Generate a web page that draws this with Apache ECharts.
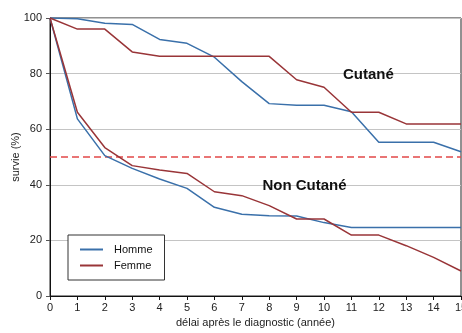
<!DOCTYPE html>
<html><head><meta charset="utf-8">
<script src="https://cdn.jsdelivr.net/npm/echarts@6/dist/echarts.min.js"></script>
<style>html,body{margin:0;padding:0;background:#fff}#c{width:462px;height:333px}</style>
</head><body><div id="c"></div>
<script>
var years = [0,1,2,3,4,5,6,7,8,9,10,11,12,13,14,15];
var hommeCutane    = [100,99.7,98.1,97.7,92.3,90.9,85.9,77.1,69.2,68.6,68.6,66.3,55.3,55.3,55.3,51.9];
var femmeCutane    = [100,96.0,96.0,87.8,86.2,86.2,86.2,86.2,86.2,77.8,75.1,66.1,66.1,61.9,61.9,61.9];
var hommeNonCutane = [100,63.7,50.5,45.9,42.1,38.7,31.9,29.4,28.9,28.8,26.4,24.6,24.6,24.6,24.6,24.6];
var femmeNonCutane = [100,66.1,53.4,46.9,45.3,44.1,37.5,36.1,32.5,27.7,27.7,21.9,21.9,18.1,13.9,9.0];
var refLine = 50;
var xTicks = {min:0, max:15, step:1};
var yTicks = {min:0, max:100, step:20};
var annotations = [
  {text:'Cutané', x:11.62, y:79.5},
  {text:'Non Cutané', x:9.29, y:39.6}
];
var BLUE = '#3a70aa', RED = '#993538', DASH = '#e24848';
function pairs(v){ return years.map(function(x,i){return [x,v[i]];}); }
var F = 'Liberation Sans, Arial, sans-serif';
function mkSeries(name, data, color, extra){
  var s = {type:'line', name:name, data:pairs(data), symbol:'none', showSymbol:false,
    lineStyle:{color:color,width:1.5}, itemStyle:{color:color}, animation:false, z:3};
  for (var k in extra) s[k]=extra[k];
  return s;
}
var chart = echarts.init(document.getElementById('c'), null, {renderer:'canvas'});
chart.setOption({
  animation:false,
  textStyle:{fontFamily:F},
  grid:{left:50,right:1,top:18,bottom:37,containLabel:false,outerBoundsMode:'none',
    show:true,borderColor:'#222',borderWidth:1,backgroundColor:'transparent'},
  legend:{
    data:[{name:'Homme',icon:'rect'},{name:'Femme',icon:'rect'}], orient:'vertical', left:68, top:235,
    itemWidth:23, itemHeight:2, itemGap:3,
    padding:[8,12,8,12], borderColor:'#333', borderWidth:1, backgroundColor:'#fff',
    textStyle:{fontFamily:F,fontSize:11,color:'#111',padding:[0,0,0,6],lineHeight:13}
  },
  xAxis:{type:'value',min:xTicks.min,max:xTicks.max,interval:xTicks.step,
    name:'délai après le diagnostic (année)',nameLocation:'middle',nameGap:21,
    nameTextStyle:{fontFamily:F,fontSize:11,color:'#222'},
    axisLine:{show:true,lineStyle:{color:'#111',width:1}},
    axisTick:{show:true,length:4,lineStyle:{color:'#111'}},
    axisLabel:{fontFamily:F,fontSize:11,color:'#222',margin:6,showMaxLabel:true,hideOverlap:false},
    splitLine:{show:false}},
  yAxis:{type:'value',min:yTicks.min,max:yTicks.max,interval:yTicks.step,
    name:'survie (%)',nameLocation:'middle',nameGap:29,nameMoveOverlap:false,
    nameTextStyle:{fontFamily:F,fontSize:11,color:'#222'},
    axisLine:{show:true,lineStyle:{color:'#111',width:1}},
    axisTick:{show:true,length:4,lineStyle:{color:'#555'}},
    axisLabel:{fontFamily:F,fontSize:11,color:'#222',margin:8},
    splitLine:{show:true,lineStyle:{color:'#c4c4c4',width:1}}},
  series:[
    {type:'line', name:'ref', data:[[xTicks.min,refLine],[xTicks.max,refLine]], symbol:'none',
      silent:true, animation:false, z:2,
      lineStyle:{color:DASH,type:[7,4],width:1.4}, itemStyle:{color:DASH}},
    mkSeries('Homme', hommeCutane, BLUE, {}),
    mkSeries('Femme', femmeCutane, RED, {}),
    mkSeries('Homme', hommeNonCutane, BLUE, {}),
    mkSeries('Femme', femmeNonCutane, RED, {
      markPoint:{symbol:'circle',symbolSize:0,animation:false,
        label:{show:true,position:'inside',fontFamily:F,fontSize:15,fontWeight:'bold',color:'#111',
          formatter:function(p){return p.name;}},
        data:annotations.map(function(a){return {name:a.text,coord:[a.x,a.y]};})}
    })
  ]
});
</script></body></html>
